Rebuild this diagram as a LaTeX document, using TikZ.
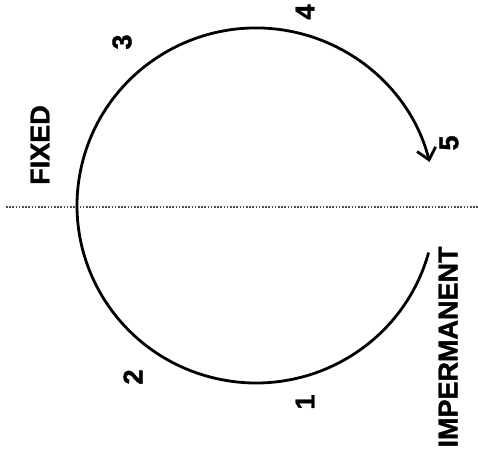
\documentclass[tikz,border=0pt]{standalone}
\usepackage{fontspec}
\setmainfont{Liberation Sans}[BoldFeatures={FakeBold=1.5}]
\usetikzlibrary{arrows.meta}
\tikzset{
  lbl/.style={font=\fontsize{27}{27}\selectfont\bfseries, rotate=90, inner sep=0pt},
  ring/.style={line width=2.8pt, -{Straight Barb[length=11pt,width=19pt,line width=2.8pt]}},
  axis/.style={draw=black!70, line width=1.1pt, dash pattern=on 1.6pt off 1.6pt}
}
\begin{document}
\begin{tikzpicture}[x=1pt,y=-1pt]
\useasboundingbox (0,0) rectangle (478,460);
\coordinate (start) at (428.6,252.6);
\coordinate (dl) at (6,207);
\coordinate (dr) at (478,207);
\draw[axis] (dl) -- (dr);
\draw[ring] (start) arc[start angle=15.4, end angle=345.8, x radius=179, y radius=177.5];
\node[lbl] (fixed) at (40,145) {FIXED};
\node[lbl] (imp) at (448,347) {IMPERMANENT};
\node[lbl] (n1) at (305,402) {1};
\node[lbl] (n2) at (133,377) {2};
\node[lbl] (n3) at (122,42) {3};
\node[lbl] (n4) at (305,12) {4};
\node[lbl] (n5) at (449,143) {5};
\end{tikzpicture}
\end{document}
